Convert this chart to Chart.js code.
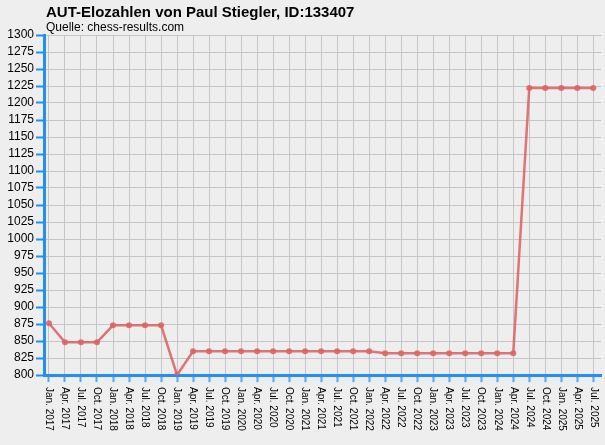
<!DOCTYPE html>
<html>
<head>
<meta charset="utf-8">
<script src="https://cdn.jsdelivr.net/npm/chart.js@4/dist/chart.umd.min.js"></script>
<style>
html,body{margin:0;padding:0;background:#eeeeee;}
#wrap{width:605px;height:445px;}
</style>
</head>
<body>
<div id="wrap"><canvas id="c" width="605" height="445"></canvas></div>
<script>
const titleText = "AUT-Elozahlen von Paul Stiegler, ID:133407";
const subtitleText = "Quelle: chess-results.com";
const categories = [
  "Jan. 2017","Apr. 2017","Jul. 2017","Oct. 2017",
  "Jan. 2018","Apr. 2018","Jul. 2018","Oct. 2018",
  "Jan. 2019","Apr. 2019","Jul. 2019","Oct. 2019",
  "Jan. 2020","Apr. 2020","Jul. 2020","Oct. 2020",
  "Jan. 2021","Apr. 2021","Jul. 2021","Oct. 2021",
  "Jan. 2022","Apr. 2022","Jul. 2022","Oct. 2022",
  "Jan. 2023","Apr. 2023","Jul. 2023","Oct. 2023",
  "Jan. 2024","Apr. 2024","Jul. 2024","Oct. 2024",
  "Jan. 2025","Apr. 2025","Jul. 2025"
];
const elo = [
  876, 848, 848, 848,
  873, 873, 873, 873,
  800, 835, 835, 835,
  835, 835, 835, 835,
  835, 835, 835, 835,
  835, 832, 832, 832,
  832, 832, 832, 832,
  832, 832, 1222, 1222,
  1222, 1222, 1222
];
const yTickValues = [800,825,850,875,900,925,950,975,1000,1025,1050,1075,1100,1125,1150,1175,1200,1225,1250,1275,1300];

const BLUE = '#1e8fff';
const FONT = '"Liberation Sans", Arial, sans-serif';
const LINE = 'rgba(222,98,98,0.88)';

const textPlugin = {
  id: 'texts',
  afterDraw(chart) {
    const ctx = chart.ctx;
    ctx.save();
    ctx.fillStyle = '#000';
    ctx.textAlign = 'left';
    ctx.textBaseline = 'alphabetic';
    ctx.font = 'bold 15px ' + FONT;
    ctx.fillText(titleText, 46, 17);
    ctx.font = '12px ' + FONT;
    ctx.fillText(subtitleText, 46, 31);
    const xs = chart.scales.x;
    ctx.font = '10px ' + FONT;
    ctx.textBaseline = 'middle';
    categories.forEach((lab, i) => {
      const px = xs.getPixelForValue(i);
      ctx.save();
      ctx.translate(px, 387);
      ctx.rotate(Math.PI / 2);
      ctx.fillText(lab, 0, 0);
      ctx.restore();
    });
    ctx.restore();
  }
};

const bgPlugin = {
  id: 'bg',
  beforeDraw(chart) {
    const ctx = chart.ctx;
    ctx.save();
    ctx.fillStyle = '#eeeeee';
    ctx.fillRect(0, 0, chart.width, chart.height);
    ctx.restore();
  }
};

new Chart(document.getElementById('c'), {
  type: 'line',
  data: {
    datasets: [{
      data: elo.map((v, i) => ({x: i, y: v})),
      borderColor: LINE,
      backgroundColor: LINE,
      pointBackgroundColor: LINE,
      pointBorderWidth: 0,
      borderWidth: 2.5,
      pointRadius: 3,
      tension: 0,
      fill: false
    }]
  },
  options: {
    responsive: false,
    animation: false,
    devicePixelRatio: 1,
    layout: {padding: {left: 0, right: 4, top: 35, bottom: 0}},
    plugins: {legend: {display: false}, tooltip: {enabled: false}, title: {display: false}},
    scales: {
      x: {
        type: 'linear',
        min: -0.31,
        max: 34.48,
        afterBuildTicks(s) { s.ticks = categories.map((_, i) => ({value: i})); },
        afterFit(s) { s.height = 70; },
        ticks: {display: false},
        grid: {color: '#c6c6c6', lineWidth: 1, tickColor: 'rgba(30,143,255,0.75)', tickWidth: 2, tickLength: 7, drawTicks: true},
        border: {color: BLUE, width: 3}
      },
      y: {
        min: 800,
        max: 1300,
        afterBuildTicks(s) { s.ticks = yTickValues.map(v => ({value: v})); },
        afterFit(s) { s.width = 44; },
        ticks: {autoSkip: false, color: '#000', font: {family: FONT, size: 12}, padding: 2, callback: v => String(v)},
        grid: {color: '#c6c6c6', lineWidth: 1, tickColor: BLUE, tickWidth: 2, tickLength: 8, drawTicks: true},
        border: {color: BLUE, width: 3}
      }
    }
  },
  plugins: [bgPlugin, textPlugin]
});
</script>
</body>
</html>
